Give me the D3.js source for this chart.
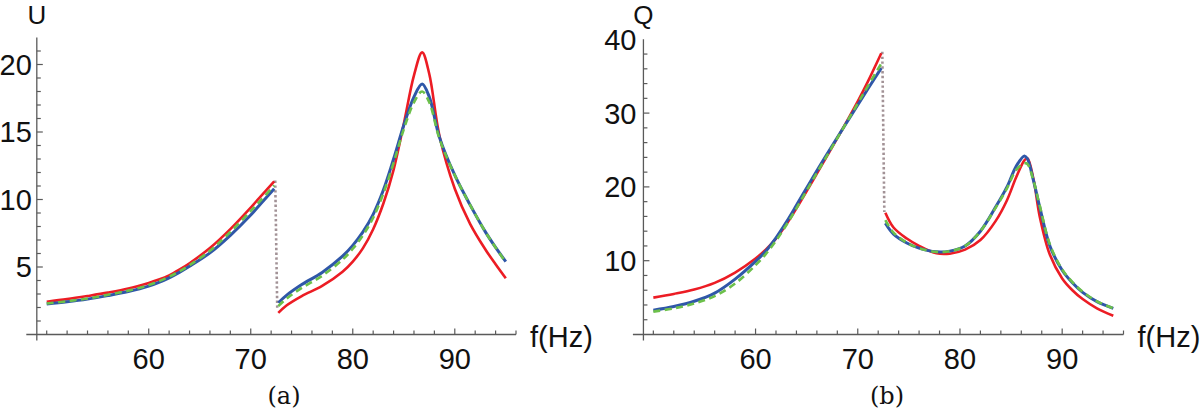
<!DOCTYPE html>
<html lang="en">
<head>
<meta charset="UTF-8">
<script src="https://d3js.org/d3.v7.min.js"></script>
<title>U and Q vs f</title>
<style>
  body { margin: 0; background: #fff; }
  text { font-family: "Liberation Sans", Arial, sans-serif; fill: #111; }
  .caption { font-family: "DejaVu Serif", "Liberation Serif", serif; }
</style>
</head>
<body>
<div id="chart"></div>
<script>
// ---------- data ----------
// branch below the jump
const freqLow = [50, 52, 54, 56, 58, 60, 61, 62, 63, 64, 66, 68, 70, 71, 72.3];
// branch above the jump
const freqHighU = [72.7, 73.5, 75, 77, 79, 80, 81, 82, 83, 84, 85, 86, 86.8, 87.5, 88.5, 90, 91.5, 93, 94, 95];
const freqHighQ = [72.7, 73.5, 74.8, 76, 77.7, 79, 80.5, 82, 83.5, 84.6, 85.5, 86.3, 86.6, 87.2, 87.8, 88.8, 90, 91, 92, 93.4, 95];

// panel (a): U
const uRedLow   = [2.43, 2.62, 2.85, 3.1, 3.4, 3.82, 4.07, 4.38, 4.8, 5.28, 6.4, 7.8, 9.4, 10.25, 11.35];
const uBlueLow  = [2.26, 2.42, 2.62, 2.88, 3.18, 3.58, 3.86, 4.2, 4.6, 5.05, 6.05, 7.35, 8.85, 9.7, 10.8];
const uGreenLow = [2.3, 2.46, 2.67, 2.94, 3.25, 3.66, 3.95, 4.28, 4.68, 5.14, 6.2, 7.6, 9.15, 9.95, 11.05];
const uRedHigh   = [1.6, 2.15, 2.85, 3.6, 4.65, 5.4, 6.4, 7.8, 9.7, 12.2, 15.6, 19.2, 20.9, 19.3, 14.7, 10.8, 8.2, 6.3, 5.2, 4.16];
const uBlueHigh  = [2.35, 2.9, 3.7, 4.6, 5.8, 6.6, 7.6, 8.9, 10.7, 13.0, 15.5, 17.6, 18.55, 17.6, 14.6, 11.8, 9.6, 7.6, 6.45, 5.4];
const uGreenHigh = [2.1, 2.65, 3.45, 4.35, 5.55, 6.35, 7.35, 8.65, 10.45, 12.7, 15.2, 17.2, 18.0, 17.2, 14.5, 11.8, 9.6, 7.6, 6.45, 5.35];

// panel (b): Q
const qRedLow   = [5.0, 5.5, 6.1, 7.0, 8.4, 10.3, 11.5, 13.0, 14.9, 17.1, 21.8, 26.6, 31.6, 34.3, 38.1];
const qBlueLow  = [3.3, 3.8, 4.5, 5.6, 7.5, 9.9, 11.3, 13.1, 15.2, 17.5, 22.2, 26.7, 31.1, 33.3, 36.1];
const qGreenLow = [3.1, 3.55, 4.2, 5.2, 6.9, 9.4, 10.9, 12.7, 14.8, 17.1, 21.9, 26.6, 31.3, 33.7, 36.7];
const qRedHigh   = [16.5, 14.5, 13.0, 12.0, 11.0, 10.95, 11.5, 12.8, 15.4, 18.2, 21.3, 23.6, 23.9, 21.0, 16.0, 10.8, 7.6, 6.0, 4.8, 3.55, 2.55];
const qBlueHigh  = [15.07, 13.6, 12.4, 11.7, 11.2, 11.3, 12.0, 14.0, 17.3, 20.0, 22.8, 24.2, 23.8, 20.8, 17.3, 12.0, 8.7, 7.0, 5.7, 4.45, 3.55];
const qGreenHigh = [15.5, 13.8, 12.45, 11.7, 11.2, 11.3, 12.0, 14.0, 17.2, 19.8, 22.3, 23.2, 23.1, 20.8, 17.5, 12.2, 8.8, 7.1, 5.8, 4.5, 3.55];

// dotted jump lines
const jumpF = [72.4, 72.6];
const jumpU = [11.4, 1.8];
const jumpQ = [38.3, 16.6];

// ticks
const xMajor = [60, 70, 80, 90];
const uMajor = [5, 10, 15, 20];
const qMajor = [10, 20, 30, 40];

const colors = { red: "#ec1c24", blue: "#2f57a8", green: "#6cc04a", jump: "#a29296" };

const svg = d3.select("#chart").append("svg")
    .attr("width", 1200)
    .attr("height", 412);

function drawPanel(p) {
    const g = svg.append("g");
    const x = d3.scaleLinear().domain([48, 96]).range(p.xRange);
    const y = d3.scaleLinear().domain(p.yDomain).range([334.5, p.yTop]);
    const axisX = x(49.03);
    const axisY = y(0);
    const axisColor = "#5a5a5a";

    // axes lines
    g.append("line").attr("x1", x(48)).attr("x2", x(96))
        .attr("y1", axisY).attr("y2", axisY)
        .attr("stroke", axisColor).attr("stroke-width", 1.3);
    g.append("line").attr("x1", axisX).attr("x2", axisX)
        .attr("y1", y(p.yDomain[1])).attr("y2", axisY + 6)
        .attr("stroke", axisColor).attr("stroke-width", 1.3);

    // x ticks
    d3.range(50, 97, 2).forEach(v => {
        const len = xMajor.includes(v) ? 6 : 4;
        g.append("line").attr("x1", x(v)).attr("x2", x(v))
            .attr("y1", axisY).attr("y2", axisY - len)
            .attr("stroke", axisColor).attr("stroke-width", 1.2);
    });
    xMajor.forEach(v => {
        g.append("text").attr("x", x(v)).attr("y", 369)
            .attr("text-anchor", "middle").attr("font-size", 29).text(v);
    });

    // y ticks
    d3.range(p.yStep, p.yDomain[1], p.yStep).forEach(v => {
        const len = p.yMajor.includes(v) ? 6 : 4;
        g.append("line").attr("x1", axisX).attr("x2", axisX + len)
            .attr("y1", y(v)).attr("y2", y(v))
            .attr("stroke", axisColor).attr("stroke-width", 1.2);
    });
    p.yMajor.forEach(v => {
        g.append("text").attr("x", axisX - p.labelGap).attr("y", y(v))
            .attr("text-anchor", "end").attr("dy", "0.36em")
            .attr("font-size", 29).text(v);
    });

    // axis titles
    g.append("text").attr("x", axisX).attr("y", 24)
        .attr("text-anchor", "middle").attr("font-size", 26).text(p.yTitle);
    g.append("text").attr("x", x(96) + 14).attr("y", 347)
        .attr("font-size", 29).text("f(Hz)");

    // curves
    const line = d3.line()
        .x(d => x(d[0]))
        .y(d => y(d[1]))
        .curve(d3.curveCatmullRom.alpha(0.5));

    g.append("path").datum(d3.zip(jumpF, p.jump))
        .attr("d", d3.line().x(d => x(d[0])).y(d => y(d[1])))
        .attr("fill", "none").attr("stroke", colors.jump)
        .attr("stroke-width", 2.6).attr("stroke-dasharray", "2.4,2.4");

    const series = [
        { c: colors.red, w: 2.6, dash: null, low: p.redLow, high: p.redHigh },
        { c: colors.blue, w: 3, dash: null, low: p.blueLow, high: p.blueHigh },
        { c: colors.green, w: 2.6, dash: "7,4.5", low: p.greenLow, high: p.greenHigh }
    ];
    series.forEach(s => {
        [[freqLow, s.low], [p.freqHigh, s.high]].forEach(([f, v]) => {
            g.append("path").datum(d3.zip(f, v))
                .attr("d", line)
                .attr("fill", "none")
                .attr("stroke", s.c)
                .attr("stroke-width", s.w)
                .attr("stroke-dasharray", s.dash);
        });
    });

    // caption
    svg.append("text").attr("class", "caption")
        .attr("x", p.captionX).attr("y", 404)
        .attr("text-anchor", "middle").attr("font-size", 24).text(p.caption);
}

drawPanel({
    xRange: [26.3, 516], yDomain: [0, 22], yTop: 37.5, yStep: 1, yMajor: uMajor,
    labelGap: 5, yTitle: "U", jump: jumpU, freqHigh: freqHighU,
    redLow: uRedLow, blueLow: uBlueLow, greenLow: uGreenLow,
    redHigh: uRedHigh, blueHigh: uBlueHigh, greenHigh: uGreenHigh,
    caption: "(a)", captionX: 284
});

drawPanel({
    xRange: [632.9, 1123.5], yDomain: [0, 40], yTop: 39.3, yStep: 2, yMajor: qMajor,
    labelGap: 7, yTitle: "Q", jump: jumpQ, freqHigh: freqHighQ,
    redLow: qRedLow, blueLow: qBlueLow, greenLow: qGreenLow,
    redHigh: qRedHigh, blueHigh: qBlueHigh, greenHigh: qGreenHigh,
    caption: "(b)", captionX: 887
});
</script>
</body>
</html>
